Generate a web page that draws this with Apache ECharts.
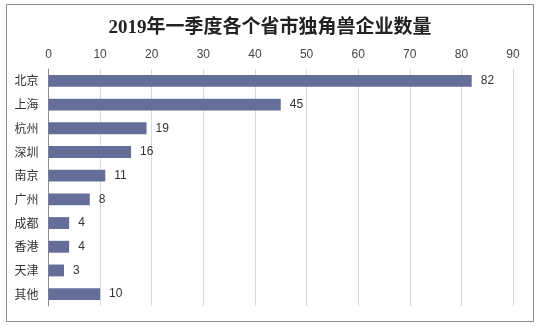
<!DOCTYPE html>
<html>
<head>
<meta charset="utf-8">
<script src="https://cdn.jsdelivr.net/npm/echarts@6/dist/echarts.min.js"></script>
<style>
  html, body { margin: 0; padding: 0; background: #fff; }
  #chart { width: 540px; height: 326px; }
</style>
</head>
<body>
<div id="chart"></div>
<script>
// Unicorn companies by city, Q1 2019
const cities = ['北京', '上海', '杭州', '深圳', '南京', '广州', '成都', '香港', '天津', '其他'];
const counts = [82, 45, 19, 16, 11, 8, 4, 4, 3, 10];
const axisMin = 0;
const axisMax = 90;
const axisStep = 10;

const chart = echarts.init(document.getElementById('chart'), null, { renderer: 'canvas' });
chart.setOption({
  animation: false,
  backgroundColor: '#fff',
  title: {
    text: '2019年一季度各个省市独角兽企业数量',
    left: 'center',
    top: 14,
    textStyle: {
      fontFamily: '"Liberation Serif", "Noto Sans CJK SC", serif',
      fontWeight: 'bold',
      fontSize: 19,
      color: '#222'
    }
  },
  graphic: [{
    type: 'rect',
    shape: { x: 6.5, y: 4.5, width: 527, height: 317 },
    style: { fill: 'none', stroke: '#8c8c8c', lineWidth: 1 },
    silent: true,
    z: -1
  }],
  grid: { left: 48.5, right: 27, top: 69, bottom: 20, containLabel: false },
  xAxis: {
    type: 'value',
    position: 'top',
    min: axisMin,
    max: axisMax,
    interval: axisStep,
    axisLine: { show: false },
    axisTick: { show: false },
    splitLine: { show: true, lineStyle: { color: '#d9d9d9', width: 1 } },
    axisLabel: {
      color: '#444',
      fontSize: 12,
      fontFamily: 'Arial, "Liberation Sans", sans-serif',
      margin: 8
    }
  },
  yAxis: {
    type: 'category',
    inverse: true,
    data: cities,
    axisLine: { show: true, lineStyle: { color: '#8c8c8c', width: 1 } },
    axisTick: { show: false },
    axisLabel: {
      color: '#333',
      fontSize: 12,
      fontFamily: '"Noto Sans CJK SC", sans-serif',
      margin: 10
    }
  },
  series: [{
    type: 'bar',
    data: counts,
    barWidth: '50%',
    itemStyle: { color: '#656e98' },
    label: {
      show: true,
      position: 'right',
      distance: 9,
      color: '#333',
      fontSize: 12,
      fontFamily: 'Arial, "Liberation Sans", sans-serif'
    }
  }]
});
</script>
</body>
</html>
